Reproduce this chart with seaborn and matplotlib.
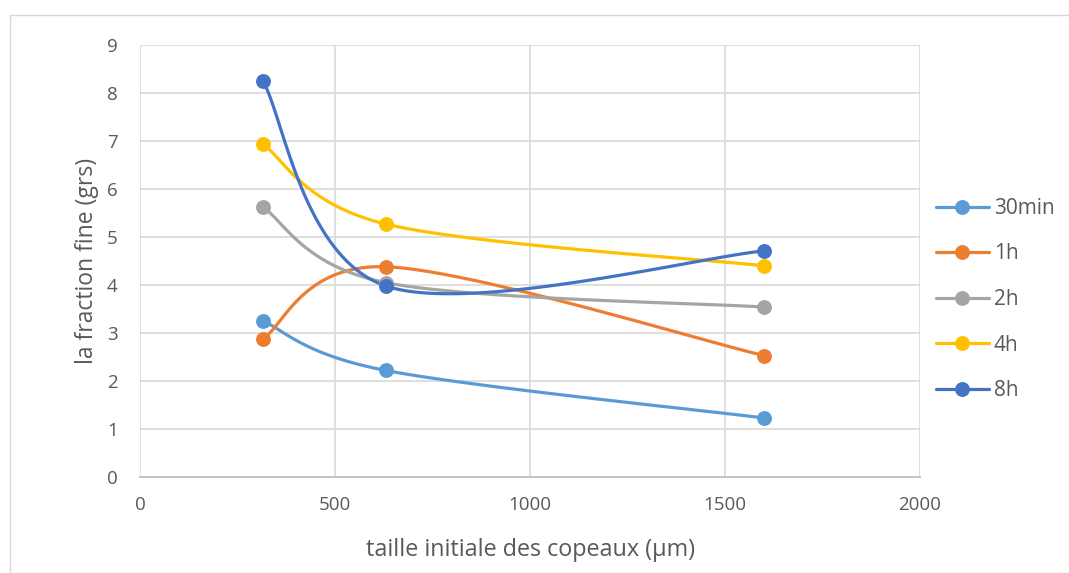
import numpy as np
import pandas as pd
import matplotlib
matplotlib.use("Agg")
import matplotlib.pyplot as plt
from matplotlib.lines import Line2D
from matplotlib.patches import Rectangle
import seaborn as sns

# chip size (µm) and fine fraction (g) for each milling time
taille = [315, 630, 1600]
series_names = ["30min", "1h", "2h", "4h", "8h"]
v_30min = [3.25, 2.22, 1.23]
v_1h = [2.88, 4.38, 2.53]
v_2h = [5.62, 4.05, 3.54]
v_4h = [6.93, 5.27, 4.40]
v_8h = [8.25, 3.98, 4.71]
x_ticks = [0, 500, 1000, 1500, 2000]
y_ticks = [0, 1, 2, 3, 4, 5, 6, 7, 8, 9]

colors = ["#5B9BD5", "#ED7D31", "#A5A5A5", "#FFC000", "#4472C4"]
values = [v_30min, v_1h, v_2h, v_4h, v_8h]


def smooth(xs, ys, n=60):
    """Cardinal (Catmull-Rom style) Bezier smoothing through the points."""
    p = np.column_stack([xs, ys]).astype(float)
    ext = np.vstack([p[0], p, p[-1]])
    out = []
    t = np.linspace(0, 1, n)[:, None]
    for i in range(len(p) - 1):
        p0, p1, p2, p3 = ext[i], ext[i + 1], ext[i + 2], ext[i + 3]
        c1 = p1 + (p2 - p0) / 6.0
        c2 = p2 - (p3 - p1) / 6.0
        seg = ((1 - t) ** 3) * p1 + 3 * ((1 - t) ** 2) * t * c1 + 3 * (1 - t) * t ** 2 * c2 + t ** 3 * p2
        out.append(seg if i == 0 else seg[1:])
    s = np.vstack(out)
    return s[:, 0], s[:, 1]


sns.set_theme(style="white")
plt.rcParams["font.family"] = ["Open Sans", "DejaVu Sans"]

fig = plt.figure(figsize=(10.69, 5.73), dpi=100)
ax = fig.add_axes([140 / 1069, 1 - 477 / 573, 780 / 1069, 432 / 573])

# outer chart border
fig.add_artist(Rectangle((10 / 1069, 0), 1.2, 1 - 15 / 573, transform=fig.transFigure,
                         fill=False, edgecolor="#d9d9d9", linewidth=1.0))

for name, vals, col in zip(series_names, values, colors):
    sx, sy = smooth(taille, vals)
    curve = pd.DataFrame({"x": sx, "y": sy})
    sns.lineplot(data=curve, x="x", y="y", sort=False, color=col, linewidth=2.3,
                 ax=ax, zorder=3)
    pts = pd.DataFrame({"x": taille, "y": vals})
    sns.scatterplot(data=pts, x="x", y="y", color=col, s=115, edgecolor=col,
                    linewidth=0, ax=ax, zorder=4)

ax.set_xlim(0, 2000)
ax.set_ylim(0, 9)
ax.set_xticks(x_ticks)
ax.set_yticks(y_ticks)
ax.grid(True, color="#d9d9d9", linewidth=1.2)
ax.set_axisbelow(True)
for side in ["top", "right", "left"]:
    ax.spines[side].set_visible(False)
ax.spines["bottom"].set_color("#bfbfbf")
ax.spines["bottom"].set_linewidth(1.3)
ax.tick_params(axis="x", length=0, labelsize=13.5, colors="#595959", pad=14)
ax.tick_params(axis="y", length=0, labelsize=13.5, colors="#595959", pad=16)
ax.set_xlabel("taille initiale des copeaux (μm)", fontsize=16.8, color="#595959", labelpad=17)
ax.set_ylabel("la fraction fine (grs)", fontsize=16.5, color="#595959", labelpad=6)

handles = [Line2D([0], [0], color=c, linewidth=2.3, marker="o", markersize=10.7,
                  markeredgewidth=0) for c in colors]
fig.legend(handles, series_names, loc="upper left",
           bbox_to_anchor=(927.5 / 1069, 1 - 189.5 / 573), frameon=False,
           fontsize=15, labelcolor="#595959", handlelength=2.55, handletextpad=0.24,
           labelspacing=1.18, borderaxespad=0)

fig.savefig("out.png", dpi=100)
